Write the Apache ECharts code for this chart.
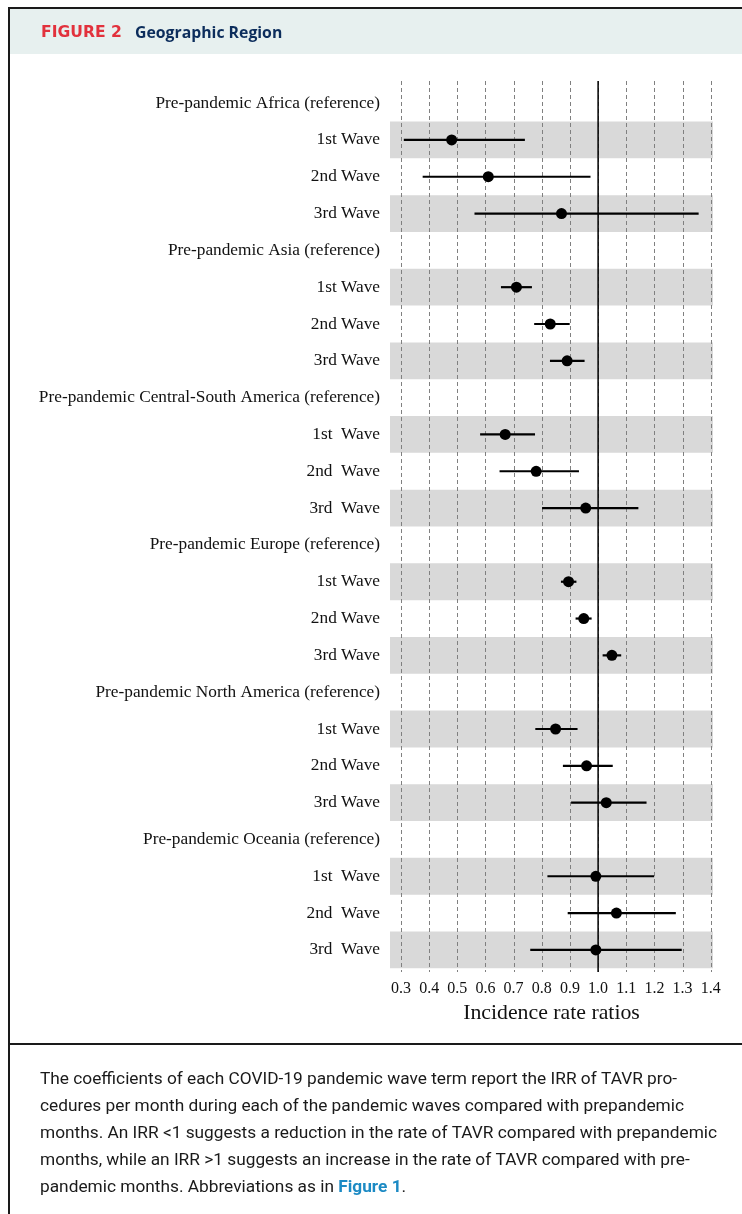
<!DOCTYPE html>
<html>
<head>
<meta charset="utf-8">
<script src="https://cdn.jsdelivr.net/npm/echarts@6/dist/echarts.min.js"></script>
<style>
html,body{margin:0;padding:0;background:#fff;}
#chart{width:742px;height:1214px;}
</style>
</head>
<body>
<div id="chart"></div>
<script>
// ---- data ----
const categories = [
  "Pre-pandemic Africa (reference)", "1st Wave", "2nd Wave", "3rd Wave",
  "Pre-pandemic Asia (reference)", "1st Wave", "2nd Wave", "3rd Wave",
  "Pre-pandemic Central-South America (reference)", "1st  Wave", "2nd  Wave", "3rd  Wave",
  "Pre-pandemic Europe (reference)", "1st Wave", "2nd Wave", "3rd Wave",
  "Pre-pandemic North America (reference)", "1st Wave", "2nd Wave", "3rd Wave",
  "Pre-pandemic Oceania (reference)", "1st  Wave", "2nd  Wave", "3rd  Wave"
];
const irr   = [null, 0.48, 0.61, 0.87,  null, 0.71, 0.83, 0.89,  null, 0.67, 0.78, 0.956, null, 0.895, 0.949, 1.049, null, 0.849, 0.959, 1.029, null, 0.992, 1.065, 0.992];
const lower = [null, 0.31, 0.377, 0.561, null, 0.655, 0.773, 0.829, null, 0.581, 0.650, 0.801, null, 0.868, 0.920, 1.016, null, 0.777, 0.875, 0.904, null, 0.820, 0.892, 0.759];
const upper = [null, 0.74, 0.973, 1.357, null, 0.765, 0.899, 0.952, null, 0.776, 0.932, 1.143, null, 0.923, 0.977, 1.082, null, 0.927, 1.052, 1.172, null, 1.199, 1.276, 1.297];
const tickValues = [0.3, 0.4, 0.5, 0.6, 0.7, 0.8, 0.9, 1.0, 1.1, 1.2, 1.3, 1.4];
const referenceValue = 1.0;
const xTitle = "Incidence rate ratios";
const figureLabel = "FIGURE 2";
const figureTitle = "Geographic Region";
const captionLines = [
  "The coefficients of each COVID-19 pandemic wave term report the IRR of TAVR pro-",
  "cedures per month during each of the pandemic waves compared with prepandemic",
  "months. An IRR <1 suggests a reduction in the rate of TAVR compared with prepandemic",
  "months, while an IRR >1 suggests an increase in the rate of TAVR compared with pre-",
  "pandemic months. Abbreviations as in "
];
const captionLink = "Figure 1";

// ---- derived ----
const X_MIN = 0.261, X_MAX = 1.408;
const rows = categories.map((c, i) => i + 1);
const bandRows = rows.filter(k => /^(1st|3rd)/.test(categories[k - 1]));
const barData = [], dotData = [];
rows.forEach(k => {
  if (irr[k - 1] != null) {
    barData.push([lower[k - 1], upper[k - 1], k]);
    dotData.push([irr[k - 1], k]);
  }
});

const serif = '"Liberation Serif", "Times New Roman", serif';
const chart = echarts.init(document.getElementById('chart'), null, {renderer: 'canvas'});

const option = {
  animation: false,
  backgroundColor: '#fff',
  grid: {left: 390, right: 29, top: 81, bottom: 242, containLabel: false},
  xAxis: {
    type: 'value', min: X_MIN, max: X_MAX,
    axisLine: {show: false}, axisTick: {show: false}, splitLine: {show: false},
    axisLabel: {
      customValues: tickValues,
      formatter: v => v.toFixed(1),
      fontFamily: serif, fontSize: 16, color: '#111', margin: 9
    },
    name: xTitle, nameLocation: 'middle', nameGap: 26,
    nameTextStyle: {fontFamily: serif, fontSize: 21.8, color: '#111'}
  },
  yAxis: {
    type: 'value', min: 0.4, max: 24.6, inverse: true,
    axisLine: {show: false}, axisTick: {show: false}, splitLine: {show: false},
    axisLabel: {
      customValues: rows,
      formatter: v => categories[Math.round(v) - 1] || '',
      fontFamily: serif, fontSize: 17.3, color: '#111', margin: 10
    }
  },
  series: [
    {
      type: 'custom', z: 1, silent: true,
      data: bandRows.map(k => [X_MIN, k]),
      encode: {x: 0, y: 1},
      renderItem: (params, api) => {
        const cs = params.coordSys;
        const k = api.value(1);
        const y1 = api.coord([X_MIN, k - 0.5])[1];
        const y2 = api.coord([X_MIN, k + 0.5])[1];
        return {type: 'rect', shape: {x: cs.x, y: Math.min(y1, y2), width: cs.width, height: Math.abs(y2 - y1)},
                style: {fill: '#d9d9d9'}};
      }
    },
    {
      type: 'custom', z: 2, silent: true,
      data: tickValues.map(v => [v, 1]),
      encode: {x: 0, y: 1},
      renderItem: (params, api) => {
        const cs = params.coordSys;
        const x = Math.round(api.coord([api.value(0), 1])[0]) + 0.5;
        return {type: 'line', shape: {x1: x, y1: cs.y, x2: x, y2: cs.y + cs.height},
                style: {stroke: '#808080', lineWidth: 1, lineDash: [4, 3]}};
      }
    },
    {
      type: 'custom', z: 3, silent: true,
      data: [[referenceValue, 1]],
      encode: {x: 0, y: 1},
      renderItem: (params, api) => {
        const cs = params.coordSys;
        const x = api.coord([api.value(0), 1])[0];
        return {type: 'line', shape: {x1: x, y1: cs.y, x2: x, y2: cs.y + cs.height},
                style: {stroke: '#000', lineWidth: 1.5}};
      }
    },
    {
      type: 'custom', z: 4, silent: true,
      data: barData,
      encode: {x: [0, 1], y: 2},
      renderItem: (params, api) => {
        const a = api.coord([api.value(0), api.value(2)]);
        const b = api.coord([api.value(1), api.value(2)]);
        return {type: 'line', shape: {x1: a[0], y1: a[1], x2: b[0], y2: b[1]},
                style: {stroke: '#000', lineWidth: 2.2}};
      }
    },
    {
      type: 'scatter', z: 5, silent: true,
      data: dotData, symbol: 'circle', symbolSize: 11,
      itemStyle: {color: '#000', opacity: 1}
    }
  ],
  graphic: [
    {type: 'rect', z: 0, shape: {x: 10, y: 9, width: 732, height: 45}, style: {fill: '#e7f0ef'}},
    {type: 'rect', z: 10, shape: {x: 8, y: 7, width: 734, height: 2}, style: {fill: '#1a1a1a'}},
    {type: 'rect', z: 10, shape: {x: 8, y: 7, width: 2, height: 1207}, style: {fill: '#1a1a1a'}},
    {type: 'rect', z: 10, shape: {x: 8, y: 1043, width: 734, height: 2}, style: {fill: '#1a1a1a'}},
    {type: 'text', z: 10, x: 41, y: 33, style: {text: figureLabel, fill: '#e2313c', font: 'bold 15.6px "DejaVu Sans"', verticalAlign: 'middle'}},
    {type: 'text', z: 10, x: 135, y: 33, style: {text: figureTitle, fill: '#0c2d5c', font: 'bold 15.8px "Open Sans"', verticalAlign: 'middle'}},
    ...captionLines.map((t, i) => ({
      type: 'text', z: 10, x: 40, y: 1080 + i * 26.8,
      style: i === captionLines.length - 1 ? {
        text: '{n|' + t + '}{b|' + captionLink + '}{n|.}',
        verticalAlign: 'middle',
        rich: {
          n: {font: '17.3px Roboto', fill: '#1a1a1a'},
          b: {font: 'bold 17.3px Roboto', fill: '#1c8ac4'}
        }
      } : {text: t, font: '17.3px Roboto', fill: '#1a1a1a', verticalAlign: 'middle'}
    }))
  ]
};
chart.setOption(option);
</script>
</body>
</html>
